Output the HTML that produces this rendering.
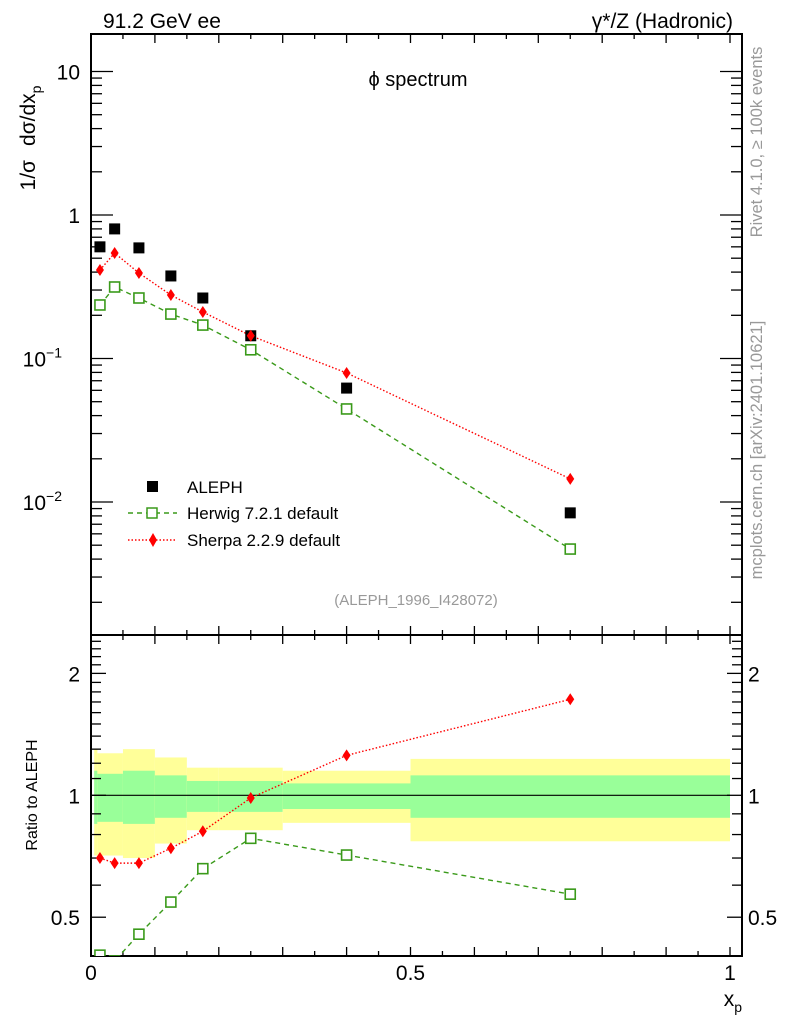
<!DOCTYPE html>
<html><head><meta charset="utf-8"><style>
html,body{margin:0;padding:0;background:#fff;}
svg text{font-family:"Liberation Sans",sans-serif;}
</style></head><body>
<svg id="chart" width="786" height="1024" xmlns="http://www.w3.org/2000/svg">
<g id="bands"></g>
<g id="axes"></g>
<g id="series"></g>
<text x="103" y="28" font-size="21">91.2 GeV ee</text>
<text x="733" y="28" font-size="21" text-anchor="end">γ*/Z (Hadronic)</text>
<text x="418" y="86" font-size="20" text-anchor="middle">ϕ spectrum</text>
<text transform="translate(35,138) rotate(-90)" font-size="21" text-anchor="middle">1/σ<tspan dx="14">dσ/dx</tspan><tspan font-size="14" dy="6">p</tspan></text>
<text transform="translate(37,795) rotate(-90)" font-size="16" text-anchor="middle">Ratio to ALEPH</text>
<text x="742" y="1006" font-size="21" text-anchor="end">x<tspan font-size="14" dy="6">p</tspan></text>
<text transform="translate(762,142) rotate(-90)" font-size="16.5" fill="#999" text-anchor="middle">Rivet 4.1.0, ≥ 100k events</text>
<text transform="translate(762,450) rotate(-90)" font-size="16.5" fill="#999" text-anchor="middle">mcplots.cern.ch [arXiv:2401.10621]</text>
<text x="416" y="605" font-size="15" fill="#999" text-anchor="middle">(ALEPH_1996_I428072)</text>
<g>
<rect x="147" y="481" width="11" height="11" fill="#000"/>
<text x="187" y="493" font-size="17">ALEPH</text>
<line x1="128" y1="513" x2="177" y2="513" stroke="#3a9a1a" stroke-width="1.4" stroke-dasharray="5,4"/>
<rect x="147" y="508" width="10" height="10" fill="#fff" stroke="#3a9a1a" stroke-width="1.5"/>
<text x="187" y="519" font-size="17">Herwig 7.2.1 default</text>
<line x1="128" y1="540" x2="177" y2="540" stroke="#f00" stroke-width="1.4" stroke-dasharray="1.5,2"/>
<polygon points="153,533 157,540 153,547 149,540" fill="#f00"/>
<text x="187" y="546" font-size="17">Sherpa 2.2.9 default</text>
</g>
</svg>
<script>
const xCenters=[0.014,0.037,0.075,0.125,0.175,0.25,0.4,0.75];
const alephVals=[0.60,0.80,0.59,0.376,0.264,0.144,0.0622,0.0084];
const herwigVals=[0.236,0.315,0.264,0.204,0.171,0.115,0.0445,0.0047];
const sherpaVals=[0.414,0.543,0.394,0.277,0.211,0.144,0.0793,0.0145];
const herwigRatio=[0.403,0.39,0.454,0.545,0.659,0.783,0.712,0.57];
const sherpaRatio=[0.70,0.68,0.68,0.74,0.815,0.985,1.255,1.726];
const binEdges=[0.005,0.01,0.05,0.1,0.15,0.2,0.3,0.5,1.0];
const yellowHi=[1.30,1.27,1.30,1.24,1.17,1.17,1.15,1.23];
const greenHi=[1.15,1.13,1.15,1.12,1.085,1.085,1.07,1.12];
const greenLo=[0.85,0.86,0.85,0.88,0.91,0.91,0.925,0.88];
const yellowLo=[0.71,0.71,0.70,0.76,0.82,0.82,0.855,0.77];
const mainTicks=[{v:10,t:"10"},{v:1,t:"1"},{v:0.1,t:"10",e:"−1"},{v:0.01,t:"10",e:"−2"}];
const ratioTicks=[{v:2,t:"2"},{v:1,t:"1"},{v:0.5,t:"0.5"}];
const xTicks=[{v:0,t:"0"},{v:0.5,t:"0.5"},{v:1,t:"1"}];

const NS="http://www.w3.org/2000/svg";
const L=91,R=742,T=34,MB=635,RB=956;
const X=v=>91+v*639;
const Ym=v=>215-Math.log10(v)*143.5;
const Yr=v=>795.3-Math.log10(v)*405;
function mk(tag,attrs,parent){const e=document.createElementNS(NS,tag);for(const k in attrs)e.setAttribute(k,attrs[k]);parent.appendChild(e);return e;}
const gB=document.getElementById('bands'),gA=document.getElementById('axes'),gS=document.getElementById('series');

for(let i=0;i<yellowHi.length;i++){
  const x1=X(binEdges[i]),x2=X(binEdges[i+1]);
  const y=mk('rect',{x:x1,y:Yr(yellowHi[i]),width:x2-x1,height:Yr(yellowLo[i])-Yr(yellowHi[i]),fill:'#ffff99'},gB);
  
  
  const g=mk('rect',{x:x1,y:Yr(greenHi[i]),width:x2-x1,height:Yr(greenLo[i])-Yr(greenHi[i]),fill:'#99ff99'},gB);
  
  
}
const one=mk('line',{x1:L,x2:X(1),y1:Yr(1),y2:Yr(1),stroke:'#000','stroke-width':1.2},gB);



const f1=mk('rect',{x:L,y:T,width:R-L,height:MB-T,fill:'none',stroke:'#000','stroke-width':2},gA);


const f2=mk('rect',{x:L,y:MB,width:R-L,height:RB-MB,fill:'none',stroke:'#000','stroke-width':2},gA);


function tk(x1,y1,x2,y2){const l=mk('line',{x1,y1,x2,y2,stroke:'#000','stroke-width':1.3},gA);}
for(let i=0;i<=20;i++){const v=i*0.05,x=X(v),len=(i%2==0)?9:5;
  tk(x,T,x,T+len);tk(x,MB,x,MB-len);tk(x,MB,x,MB+len);tk(x,RB,x,RB-len);}
for(let d=-3;d<=1;d++)for(let m=1;m<=9;m++){const v=m*Math.pow(10,d),y=Ym(v);if(y<T||y>MB)continue;const len=m==1?22:11;tk(L,y,L+len,y);tk(R,y,R-len,y);}
for(let v=0.4;v<2.5;v+=0.1){const vv=Math.round(v*10)/10;const y=Yr(vv);if(y<MB||y>RB)continue;const major=(vv==0.5||vv==1||vv==2);const len=major?15:10;tk(L,y,L+len,y);tk(R,y,R-len,y);}
mainTicks.forEach(t=>{const tx=mk('text',{x:80,y:Ym(t.v)+8,'font-size':21,'text-anchor':'end'},gA);tx.textContent=t.t;
  if(t.e){tx.setAttribute('x',62);const s=mk('tspan',{'font-size':14,dy:-9},tx);s.textContent=t.e;}
  });
ratioTicks.forEach(t=>{const a=mk('text',{x:80,y:Yr(t.v)+8,'font-size':21,'text-anchor':'end'},gA);a.textContent=t.t;
  
  const b=mk('text',{x:748,y:Yr(t.v)+8,'font-size':21},gA);b.textContent=t.t;
  });
xTicks.forEach(t=>{const a=mk('text',{x:X(t.v),y:980,'font-size':21,'text-anchor':'middle'},gA);a.textContent=t.t;
  });

const defs=mk('defs',{},gS);
const c1=mk('clipPath',{id:'cm'},defs);mk('rect',{x:L,y:T,width:R-L,height:MB-T},c1);
const c2=mk('clipPath',{id:'cr'},defs);mk('rect',{x:L,y:MB,width:R-L,height:RB-MB},c2);
const gm=mk('g',{'clip-path':'url(#cm)'},gS),gr=mk('g',{'clip-path':'url(#cr)'},gS);

function line(vals,Y,g,color,dash,name){const pts=vals.map((v,i)=>X(xCenters[i])+','+Y(v)).join(' ');
  const p=mk('polyline',{points:pts,fill:'none',stroke:color,'stroke-width':1.4,'stroke-dasharray':dash},g);
  }
function sq(vals,Y,g,name){vals.forEach((v,i)=>{const r=mk('rect',{x:X(xCenters[i])-5,y:Y(v)-5,width:10,height:10,fill:'#fff',stroke:'#3a9a1a','stroke-width':1.6},g);
  });}
function dia(vals,Y,g,name){vals.forEach((v,i)=>{const x=X(xCenters[i]),y=Y(v);const p=mk('polygon',{points:`${x},${y-6} ${x+4},${y} ${x},${y+6} ${x-4},${y}`,fill:'#f00'},g);
  });}

line(herwigVals,Ym,gm,'#3a9a1a','5,4','herwig-line');
line(sherpaVals,Ym,gm,'#f00','1.5,2','sherpa-line');
alephVals.forEach((v,i)=>{const r=mk('rect',{x:X(xCenters[i])-5.5,y:Ym(v)-5.5,width:11,height:11,fill:'#000'},gm);
  });
sq(herwigVals,Ym,gm,'herwig-point');
dia(sherpaVals,Ym,gm,'sherpa-point');

line(herwigRatio,Yr,gr,'#3a9a1a','5,4','herwig-ratio-line');
line(sherpaRatio,Yr,gr,'#f00','1.5,2','sherpa-ratio-line');
sq(herwigRatio,Yr,gr,'herwig-ratio-point');
dia(sherpaRatio,Yr,gr,'sherpa-ratio-point');
</script>
</body></html>
